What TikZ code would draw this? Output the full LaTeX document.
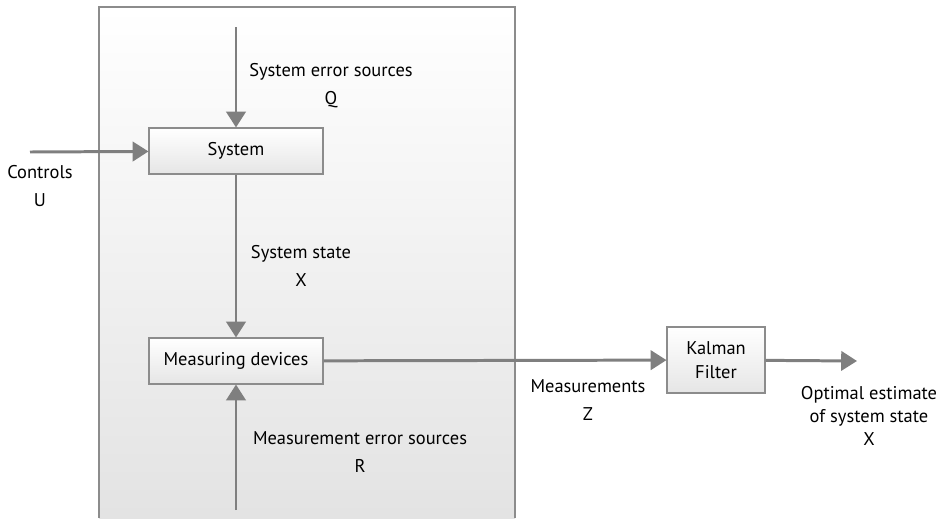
\documentclass[tikz,border=0pt]{standalone}
\usepackage{fontspec}
\setmainfont{PT Sans}
\usetikzlibrary{arrows.meta}
\definecolor{linegray}{HTML}{7F7F7F}
\definecolor{edgegray}{HTML}{8C8C8C}
\tikzset{block/.style={
    draw=edgegray,
    line width=0.6pt,
    top color=white,
    bottom color=black!10,
    minimum width=3.48cm,
    minimum height=0.92cm,
    font=\fontsize{10.5}{12}\selectfont},
  flow/.style={
    draw=linegray,
    line width=1.7pt,
    -{Triangle[width=11pt,length=9pt]}},
  lbl/.style={
    align=center,
    font=\fontsize{10.5}{16}\selectfont}}

\begin{document}
\begin{tikzpicture}[x=0.02cm,y=-0.02cm]
	\useasboundingbox (0,0) rectangle (946,518);
\coordinate (Q) at (236,27);
\coordinate (U) at (30,152);
\coordinate (R) at (236,510);
\coordinate (O) at (857,361);

% outer frame, open at the bottom
\shade[top color=white,bottom color=black!11] (99,7) rectangle (515,518);
\draw[edgegray,line width=0.8pt] (99,518) -- (99,7) -- (515,7) -- (515,518);

	\node[block] (sys) at (236,151) {System};
	\node[block] (meas) at (236,361) {Measuring devices};
	\node[block,minimum width=1.96cm,minimum height=1.32cm,align=center,
	  font=\fontsize{10.5}{14}\selectfont] (kf) at (716,360) {Kalman\\Filter};

	\draw[flow] (Q) -- (sys);
	\draw[flow] (U) -- (sys);
	\draw[flow] (sys) -- (meas);
	\draw[flow] (R) -- (meas);
	\draw[flow] (meas) -- (kf);
	\draw[flow] (kf) -- (O);

\node[lbl] (qlbl) at (331,86) {System error sources\\Q};
\node[lbl] (xlbl) at (301,266) {System state\\X};
\node[lbl] (rlbl) at (360,452) {Measurement error sources\\R};
\node[lbl] (ulbl) at (40,186) {Controls\\U};
\node[lbl] (zlbl) at (588,400) {Measurements\\Z};
\node[lbl,font=\fontsize{10.5}{13}\selectfont] (olbl) at (869,416) {Optimal estimate\\of system state\\X};
  
\end{tikzpicture}
\end{document}
